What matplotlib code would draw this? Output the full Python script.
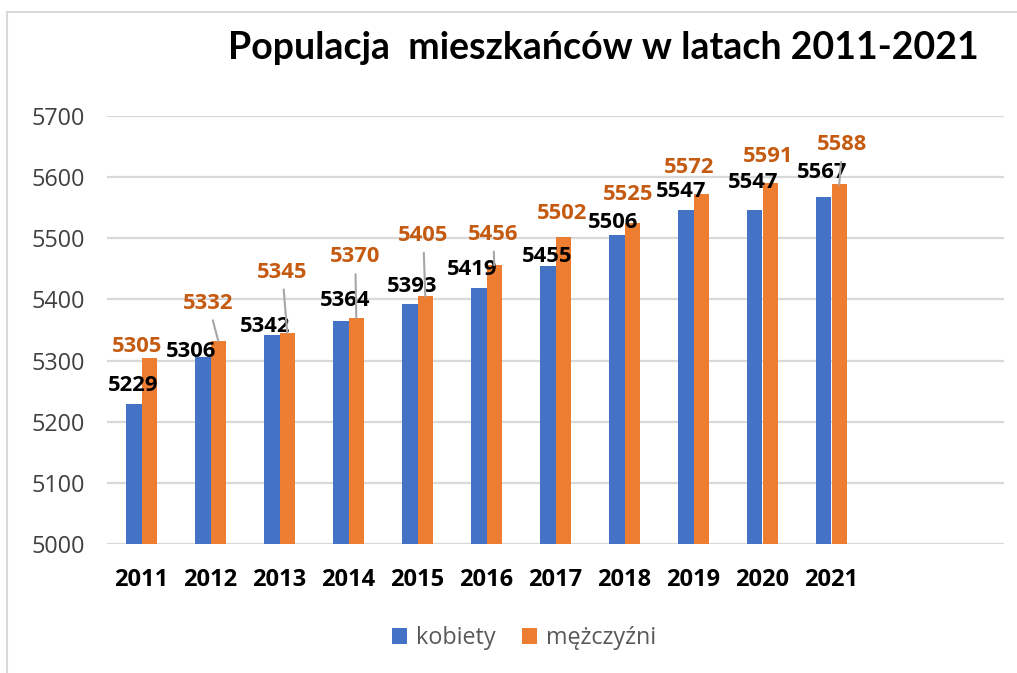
import matplotlib
matplotlib.use("Agg")
import matplotlib.pyplot as plt
from matplotlib.lines import Line2D
import numpy as np

# ---- data ----
years = ["2011", "2012", "2013", "2014", "2015", "2016", "2017", "2018", "2019", "2020", "2021"]
kobiety = [5229, 5306, 5342, 5364, 5393, 5419, 5455, 5506, 5547, 5547, 5567]
mezczyzni = [5305, 5332, 5345, 5370, 5405, 5456, 5502, 5525, 5572, 5591, 5588]
series_names = ["kobiety", "mężczyźni"]
title = "Populacja  mieszkańców w latach 2011-2021"
yticks = [5000, 5100, 5200, 5300, 5400, 5500, 5600, 5700]

# ---- label placement (pixel offsets from bar top centre) ----
k_off = [(-1, 18), (-12, 5), (-7, 8), (4, 21), (2, 17), (-7, 18), (-1, 9), (-4, 12), (-5, 18), (-2, 27), (-2, 25)]
m_off = [(-12, 11), (-10, 38), (-5, 61), (-1, 61), (-2, 61), (-1, 31), (-1, 24), (-4, 29), (-12, 27), (-2, 26), (3, 40)]
m_leader = [False, True, True, True, True, True, False, False, False, False, True]

BLUE = "#4472C4"
ORANGE = "#ED7D31"
ORANGE_TXT = "#C55A11"
GRID = "#D9D9D9"

W, H = 1017, 673
fig = plt.figure(figsize=(W / 100, H / 100), dpi=100)
fig.patch.set_facecolor("white")

# chart frame
fig.add_artist(Line2D([7 / W, 7 / W], [0, 1 - 12 / H], color=GRID, lw=1.5, transform=fig.transFigure))
fig.add_artist(Line2D([7 / W, 1], [1 - 12 / H, 1 - 12 / H], color=GRID, lw=1.5, transform=fig.transFigure))

ax_l, ax_r, ax_t, ax_b = 107, 1004, 116, 544
ax = fig.add_axes([ax_l / W, 1 - ax_b / H, (ax_r - ax_l) / W, (ax_b - ax_t) / H])

n_slots = 13
x = np.arange(len(years))
bw = 0.225
bars_k = ax.bar(x - bw / 2, [v - 5000 for v in kobiety], bw, bottom=5000, color=BLUE, label=series_names[0], zorder=3)
bars_m = ax.bar(x + bw / 2, [v - 5000 for v in mezczyzni], bw, bottom=5000, color=ORANGE, label=series_names[1], zorder=3)

ax.set_xlim(-0.5, n_slots - 0.5)
ax.set_ylim(5000, 5700)
ax.set_yticks(yticks)
ax.set_yticklabels([str(t) for t in yticks], fontfamily="Open Sans", fontsize=16.8, color="#404040")
ax.set_xticks(x)
ax.set_xticklabels(years, fontfamily="Open Sans", fontweight="bold", fontsize=17, color="black")
ax.tick_params(axis="y", length=0, pad=16)
ax.tick_params(axis="x", length=0, pad=17)
ax.grid(axis="y", color=GRID, lw=1.6, zorder=0)
for s in ax.spines.values():
    s.set_visible(False)

lab_fs = 15.8
for i in range(len(years)):
    dx, dy = k_off[i]
    ax.annotate(str(kobiety[i]), xy=(x[i] - bw / 2, kobiety[i]), xytext=(dx, dy),
                textcoords="offset pixels", ha="center", va="center",
                fontfamily="Open Sans", fontweight="bold", fontsize=lab_fs, color="black", zorder=5)
    dx, dy = m_off[i]
    ap = dict(arrowstyle="-", color="#A6A6A6", lw=1.5, shrinkA=3, shrinkB=0) if m_leader[i] else None
    ax.annotate(str(mezczyzni[i]), xy=(x[i] + bw / 2, mezczyzni[i]), xytext=(dx, dy),
                textcoords="offset pixels", ha="center", va="center",
                fontfamily="Open Sans", fontweight="bold", fontsize=lab_fs, color=ORANGE_TXT,
                arrowprops=ap, zorder=5)

fig.text(603 / W, 1 - 48 / H, title, ha="center", va="center",
         fontfamily="Lato", fontweight="bold", fontsize=27, color="black")

leg = fig.legend(handles=[bars_k, bars_m], labels=series_names, loc="center",
                 bbox_to_anchor=(524 / W, 1 - 638 / H), ncol=2, frameon=False,
                 handlelength=0.65, handleheight=0.65, handletextpad=0.4, columnspacing=1.1,
                 prop={"family": "Open Sans", "size": 16.8})
for t in leg.get_texts():
    t.set_color("#595959")

fig.savefig("out.png", dpi=100, facecolor="white")
